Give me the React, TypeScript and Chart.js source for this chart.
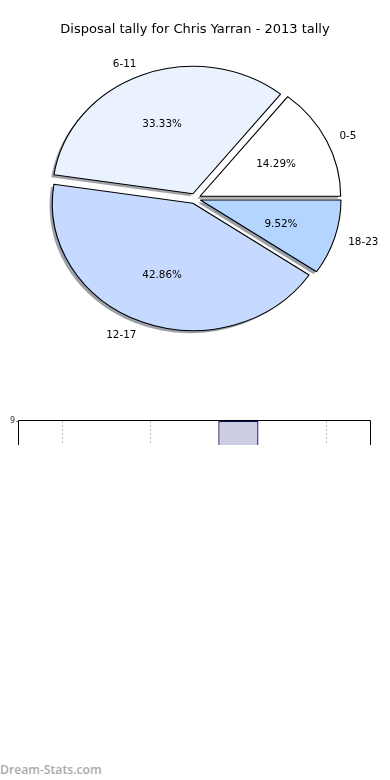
import React, { useEffect, useRef } from "react";
import { Chart, registerables } from "chart.js";

Chart.register(...registerables);

const TITLE = "Disposal tally for Chris Yarran - 2013 tally";
const categories = ["0-5", "6-11", "12-17", "18-23"];
const counts = [3, 7, 9, 2];
const sliceColors = ["#ffffff", "#eaf1ff", "#c6daff", "#b4d5ff"];
const barFill = "#cccce5";
const barEdge = "#0e0e5c";
const yTicksMax = 9;

// geometry of the (elliptical) matplotlib-like pie
const RY = 127.4;
const RX = 140.6;
const SX = RX / RY;
const EXPLODE = 0.04 * RY;
const SHADOW = 0.02 * RY;
const TEXT_DY = 1.3;

function shadowOf(hex: string) {
  const n = parseInt(hex.slice(1), 16);
  const r = Math.round(((n >> 16) & 255) * 0.3);
  const g = Math.round(((n >> 8) & 255) * 0.3);
  const b = Math.round((n & 255) * 0.3);
  return `rgba(${r},${g},${b},0.5)`;
}

const piePlugin = {
  id: "ellipsePie",
  afterDatasetsUpdate(chart: any) {
    const meta = chart.getDatasetMeta(0);
    const ca = chart.chartArea;
    (chart as any).$pieCenter = { x: (ca.left + ca.right) / 2, y: (ca.top + ca.bottom) / 2 };
    meta.data.forEach((a: any) => {
      const mid = (a.startAngle + a.endAngle) / 2;
      a.x += Math.cos(mid) * EXPLODE;
      a.y += Math.sin(mid) * EXPLODE;
    });
  },
  beforeDatasetsDraw(chart: any) {
    const ctx = chart.ctx;
    const c = chart.$pieCenter;
    const meta = chart.getDatasetMeta(0);
    const ds = chart.data.datasets[0];
    ctx.save();
    ctx.translate(c.x, c.y);
    ctx.scale(SX, 1);
    ctx.translate(-c.x, -c.y);
    meta.data.forEach((a: any, i: number) => {
      const sx = a.x - SHADOW;
      const sy = a.y + SHADOW;
      ctx.beginPath();
      ctx.moveTo(sx, sy);
      ctx.arc(sx, sy, a.outerRadius, a.startAngle, a.endAngle);
      ctx.closePath();
      ctx.fillStyle = shadowOf(ds.backgroundColor[i]);
      ctx.fill();
    });
  },
  afterDatasetsDraw(chart: any) {
    const ctx = chart.ctx;
    ctx.restore();
    const c = chart.$pieCenter;
    const meta = chart.getDatasetMeta(0);
    const ds = chart.data.datasets[0];
    const labels = chart.data.labels;
    const total = ds.data.reduce((s: number, v: number) => s + v, 0);
    ctx.save();
    ctx.fillStyle = "#000";
    ctx.font = '10.4px "DejaVu Sans"';
    ctx.textBaseline = "middle";
    meta.data.forEach((a: any, i: number) => {
      const mid = (a.startAngle + a.endAngle) / 2;
      const ux = Math.cos(mid);
      const uy = Math.sin(mid);
      const R = a.outerRadius;
      const lx = c.x + ux * (1.1 * R + EXPLODE) * SX;
      const ly = c.y + uy * (1.1 * R + EXPLODE) + TEXT_DY;
      ctx.textAlign = ux > 0 ? "left" : "right";
      ctx.fillText(labels[i], lx, ly);
      const px = c.x + ux * (0.6 * R + EXPLODE) * SX;
      const py = c.y + uy * (0.6 * R + EXPLODE) + TEXT_DY;
      ctx.textAlign = "center";
      ctx.fillText(((ds.data[i] / total) * 100).toFixed(2) + "%", px, py);
    });
    ctx.restore();
  },
};

const framePlugin = {
  id: "frame",
  afterDraw(chart: any) {
    const { ctx, chartArea: a } = chart;
    ctx.save();
    ctx.strokeStyle = "#000";
    ctx.lineWidth = 1;
    const l = Math.round(a.left) - 0.5;
    const r = Math.round(a.right) + 0.5;
    const t = Math.round(a.top) - 0.5;
    const b = Math.round(a.bottom) + 0.5;
    ctx.beginPath();
    ctx.moveTo(l, b);
    ctx.lineTo(l, t);
    ctx.lineTo(r, t);
    ctx.lineTo(r, b);
    ctx.lineTo(l, b);
    ctx.stroke();
    ctx.restore();
  },
};

function PieChart() {
  const ref = useRef<HTMLCanvasElement>(null);
  useEffect(() => {
    // matplotlib draws counter-clockwise from east; Chart.js clockwise -> reverse
    const order = categories.map((_, i) => categories.length - 1 - i);
    const chart = new Chart(ref.current as HTMLCanvasElement, {
      type: "pie",
      data: {
        labels: order.map((i) => categories[i]),
        datasets: [
          {
            data: order.map((i) => counts[i]),
            backgroundColor: order.map((i) => sliceColors[i]),
            borderColor: "#000",
            borderWidth: 1,
          },
        ],
      },
      options: {
        responsive: false,
        animation: false,
        rotation: 90,
        radius: RY,
        layout: { padding: 0 },
        plugins: {
          legend: { display: false },
          tooltip: { enabled: false },
          title: {
            display: true,
            text: TITLE,
            color: "#000",
            font: { family: '"DejaVu Sans"', size: 13, weight: "normal" },
            padding: { top: 22, bottom: 7.4 },
          },
        },
      } as any,
      plugins: [piePlugin],
    });
    return () => chart.destroy();
  }, []);
  return <canvas ref={ref} width={390} height={352} style={{ position: "absolute", left: 0, top: 0 }} />;
}

function BarStrip() {
  const ref = useRef<HTMLCanvasElement>(null);
  useEffect(() => {
    const chart = new Chart(ref.current as HTMLCanvasElement, {
      type: "bar",
      data: {
        labels: categories,
        datasets: [
          {
            data: counts,
            backgroundColor: barFill,
            borderColor: barEdge,
            borderWidth: 1.3,
            borderSkipped: false,
            barPercentage: 0.458,
            categoryPercentage: 1,
          },
        ],
      },
      options: {
        responsive: false,
        animation: false,
        layout: { padding: { top: 11, right: 20, left: 0, bottom: 0 } },
        plugins: { legend: { display: false }, tooltip: { enabled: false } },
        scales: {
          x: {
            z: 1,
            ticks: { display: false },
            grid: { display: true, offset: false, color: "#bdbdbd", lineWidth: 1, drawTicks: false },
            border: { display: false, dash: [2, 2] },
          },
          y: {
            min: 0,
            max: yTicksMax,
            ticks: { stepSize: 1, color: "#333", font: { family: '"DejaVu Sans"', size: 8 }, padding: 1 },
            grid: { drawOnChartArea: false, drawTicks: true, tickLength: 3, tickColor: "#888" },
            border: { display: false },
            afterFit: (s: any) => {
              s.width = 19;
            },
          },
        },
      } as any,
      plugins: [framePlugin],
    });
    return () => chart.destroy();
  }, []);
  return (
    <div style={{ position: "absolute", left: 0, top: 410, width: 390, height: 35, overflow: "hidden" }}>
      <canvas ref={ref} width={390} height={300} style={{ position: "absolute", left: 0, top: 0 }} />
    </div>
  );
}

export default function App() {
  return (
    <div style={{ position: "fixed", left: 0, top: 0, width: 390, height: 780, background: "#fff", overflow: "hidden" }}>
      <PieChart />
      <BarStrip />
      <div
        style={{
          position: "absolute",
          left: 0,
          top: 762,
          fontFamily: '"Open Sans", sans-serif',
          fontSize: 12.2,
          lineHeight: "16px",
          color: "#aaa",
          fontWeight: 600,
        }}
      >
        Dream-Stats.com
      </div>
    </div>
  );
}
